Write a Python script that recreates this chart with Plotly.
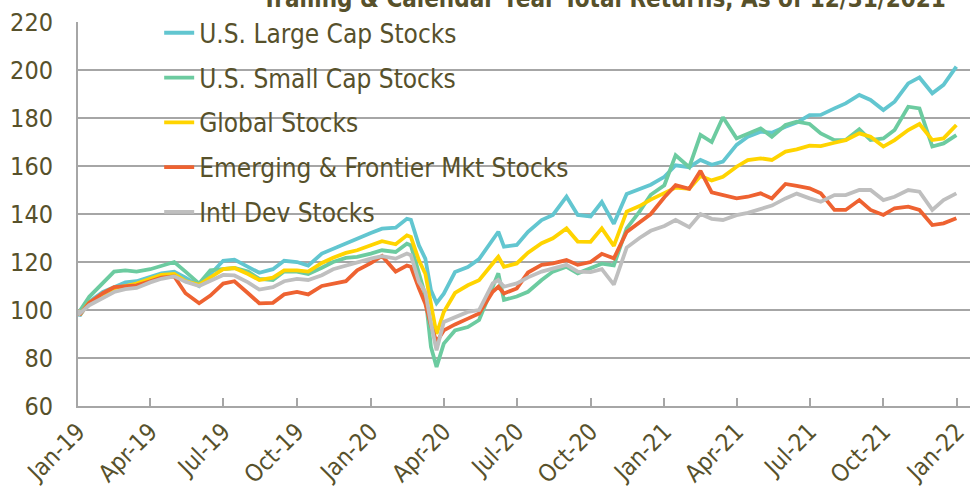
import plotly.graph_objects as go

dates = [
    "2019-01-01", "2019-01-03", "2019-01-15", "2019-02-01", "2019-02-15", "2019-03-01", "2019-03-15",
    "2019-04-01", "2019-04-15", "2019-05-01", "2019-05-15", "2019-06-01", "2019-06-15",
    "2019-07-01", "2019-07-15", "2019-08-01", "2019-08-15", "2019-09-01", "2019-09-15",
    "2019-10-01", "2019-10-15", "2019-11-01", "2019-11-15", "2019-12-01", "2019-12-15",
    "2020-01-01", "2020-01-15", "2020-02-01", "2020-02-15", "2020-02-20", "2020-03-01",
    "2020-03-09", "2020-03-16", "2020-03-23", "2020-04-01", "2020-04-15", "2020-05-01",
    "2020-05-15", "2020-06-01", "2020-06-08", "2020-06-15", "2020-07-01", "2020-07-15",
    "2020-08-01", "2020-08-15", "2020-09-01", "2020-09-15", "2020-10-01", "2020-10-15",
    "2020-10-30", "2020-11-15", "2020-12-01", "2020-12-15", "2021-01-01", "2021-01-15",
    "2021-02-01", "2021-02-15", "2021-03-01", "2021-03-15", "2021-04-01", "2021-04-15",
    "2021-05-01", "2021-05-15", "2021-06-01", "2021-06-15", "2021-07-01", "2021-07-15",
    "2021-08-01", "2021-08-15", "2021-09-01", "2021-09-15", "2021-10-01", "2021-10-15",
    "2021-11-01", "2021-11-15", "2021-12-01", "2021-12-15", "2021-12-31",
]

large_cap = [
    100, 97.5, 103.5, 107.5, 109.5, 111.5, 112,
    114, 115.3, 116, 113.5, 110, 115,
    120.5, 121, 118, 115.5, 117, 120.5,
    120, 118.5, 123.5, 125.6, 127.9, 129.7,
    132.1, 133.9, 134.3, 138, 137.6, 126.9,
    121.4, 108.2, 102.9, 106.8, 115.8, 117.9,
    121.2, 129.2, 132.6, 126.4, 127.1, 132.6,
    137.5, 139.6, 147.2, 139.6, 139, 145,
    135.9, 148.3, 150.3, 152.2, 155.5, 160.3,
    159.5, 162.5, 160.5, 161.8, 168.8, 172.2,
    174.3, 173.9, 176.4, 178.1, 181.2, 181.3,
    184, 186.1, 189.6, 187.5, 183.3, 186.8,
    194.4, 196.9, 190.3, 193.8, 201.4,
]

small_cap = [
    100, 99.5, 105.5, 111, 116, 116.5, 116,
    117, 118.3, 120, 116, 111, 116.5,
    117, 117.5, 116, 113, 112.5, 116,
    116, 115, 117.6, 120, 121.7, 122.1,
    123.5, 124.9, 124.2, 127.6, 126.9, 115.8,
    106.1, 84.6, 76.3, 86, 91.5, 92.9,
    95.8, 109.7, 115.3, 104.2, 105.6, 107.6,
    112.5, 116, 118, 115.3, 117.5, 119.3,
    118.6, 134, 141, 148, 152, 164.5,
    159.5, 173, 170, 180.3, 171.5, 173.6,
    175.7, 172.2, 177.1, 178.5, 177.5, 173.6,
    170.8, 170.8, 175.3, 170.8, 171.5, 175,
    184.7, 184, 168.1, 169.4, 172.9,
]

global_stocks = [
    100, 98, 103, 106.5, 109, 110, 111,
    113, 114.6, 115, 112, 110.5, 113.5,
    117, 117.5, 115, 112.5, 113.5, 116.5,
    116.5, 116, 119.6, 121.8, 123.8, 124.9,
    127, 128.7, 127.4, 131.1, 130.4, 120.7,
    115.1, 102.6, 90, 99.2, 107.1, 110.3,
    112.4, 119.4, 122.2, 118, 119.4, 123.9,
    127.8, 129.9, 134, 128.5, 128.4, 134,
    126.7, 141, 143.3, 146, 148.8, 151,
    150.5, 155.8, 154, 155.5, 159.7, 162.5,
    163.2, 162.5, 166, 166.9, 168.5, 168.3,
    169.7, 170.8, 173.6, 172.2, 168.1, 170.8,
    175, 177.5, 170.8, 171.5, 177.1,
]

emerging = [
    100, 98, 103, 107, 109.5, 110, 110.3,
    112, 113.5, 114, 107, 102.8, 106,
    111, 112, 107, 102.8, 103, 106.5,
    107.5, 106.5, 110, 111, 112, 116.5,
    119.5, 122.5, 116, 118.5, 118, 109,
    102.6, 93.6, 86.7, 91.5, 94, 96.4,
    98.5, 107.6, 109.7, 106.9, 109, 115.6,
    118.8, 119.4, 120.8, 118.8, 120, 123.4,
    121.5, 132.5, 136.5, 140, 147, 152,
    150.5, 158, 149, 147.9, 146.5, 147.2,
    148.6, 146.5, 152.5, 151.7, 150.7, 148.6,
    141.7, 141.7, 145.8, 141.7, 139.6, 142.4,
    143.1, 141.7, 135.4, 136.1, 138.2,
]

intl_dev = [
    100, 98.5, 102, 105, 107.5, 108.7, 109.2,
    111.5, 113, 114, 111.8, 110, 112,
    114.6, 114.4, 111.5, 108.5, 109.5, 112,
    113, 112.5, 114.5, 117, 118.5, 120,
    121.4, 122.4, 121.4, 123.5, 122.8, 111.7,
    107.5, 94.3, 83.2, 95, 97.1, 99.2,
    100, 111.1, 112.5, 109.7, 111.1, 113.6,
    116, 117.4, 118.8, 116, 115.8, 117,
    110.6, 126, 130, 133, 135, 137.5,
    134.5, 140, 138, 137.5, 139.5, 140.5,
    142, 143.5, 146.5, 148.5, 146.5, 145.1,
    147.9, 147.9, 150, 150, 145.8, 147.2,
    150, 149.3, 141.7, 145.8, 148.6,
]

series_names = [
    "U.S. Large Cap Stocks",
    "U.S. Small Cap Stocks",
    "Global Stocks",
    "Emerging & Frontier Mkt Stocks",
    "Intl Dev Stocks",
]
series_values = [large_cap, small_cap, global_stocks, emerging, intl_dev]
series_colors = ["#62C6D0", "#6CCBA0", "#FFD400", "#EE6231", "#BFBFBF"]

tick_dates = [
    "2019-01-01", "2019-04-01", "2019-07-01", "2019-10-01",
    "2020-01-01", "2020-04-01", "2020-07-01", "2020-10-01",
    "2021-01-01", "2021-04-01", "2021-07-01", "2021-10-01", "2022-01-01",
]
tick_labels = [
    "Jan-19", "Apr-19", "Jul-19", "Oct-19",
    "Jan-20", "Apr-20", "Jul-20", "Oct-20",
    "Jan-21", "Apr-21", "Jul-21", "Oct-21", "Jan-22",
]
y_ticks = [60, 80, 100, 120, 140, 160, 180, 200, 220]

title_text = "Trailing & Calendar Year Total Returns, As of 12/31/2021"

FONT = "DejaVu Sans Condensed, DejaVu Sans, sans-serif"
TEXT_COLOR = "#57512B"
GRID = "#A6A6A6"

fig = go.Figure()
for name, vals, col in zip(series_names, series_values, series_colors):
    fig.add_trace(go.Scatter(
        x=dates, y=vals, name=name, mode="lines",
        line=dict(color=col, width=3.8),
        legendgroup=name,
    ))

fig.update_layout(
    width=970, height=500,
    margin=dict(l=78, r=0, t=22, b=94, autoexpand=False),
    paper_bgcolor="white", plot_bgcolor="white",
    font=dict(family=FONT, color=TEXT_COLOR, size=24),
    title=dict(
        text="<b>" + title_text + "</b>",
        font=dict(family=FONT, size=24, color=TEXT_COLOR),
        x=604 / 970, xanchor="center", xref="container",
        y=0.986, yanchor="bottom", yref="container",
    ),
    showlegend=True,
    legend=dict(
        x=0.091, xanchor="left", y=1.033, yanchor="top",
        bgcolor="rgba(0,0,0,0)", borderwidth=0,
        font=dict(family=FONT, size=26, color=TEXT_COLOR),
        tracegroupgap=8,
        traceorder="grouped",
    ),
    xaxis=dict(
        type="date",
        range=["2019-01-01", "2022-01-17"],
        tickvals=tick_dates, ticktext=tick_labels,
        tickangle=-45,
        automargin=False,
        showgrid=False, zeroline=False,
        showline=True, linecolor=GRID, linewidth=2,
        ticks="inside", ticklen=8, tickwidth=2, tickcolor=GRID,
        tickfont=dict(family=FONT, size=24, color=TEXT_COLOR),
    ),
    yaxis=dict(
        range=[60, 220],
        tickvals=y_ticks,
        automargin=False,
        showgrid=True, gridcolor=GRID, gridwidth=2,
        zeroline=False,
        showline=True, linecolor=GRID, linewidth=2,
        ticks="", ticklabelstandoff=18,
        tickfont=dict(family=FONT, size=25, color=TEXT_COLOR),
    ),
)

fig.write_html(
    "out.html",
    config={"displayModeBar": False},
    post_script="document.body.style.margin='0';document.body.style.overflow='hidden';",
)
